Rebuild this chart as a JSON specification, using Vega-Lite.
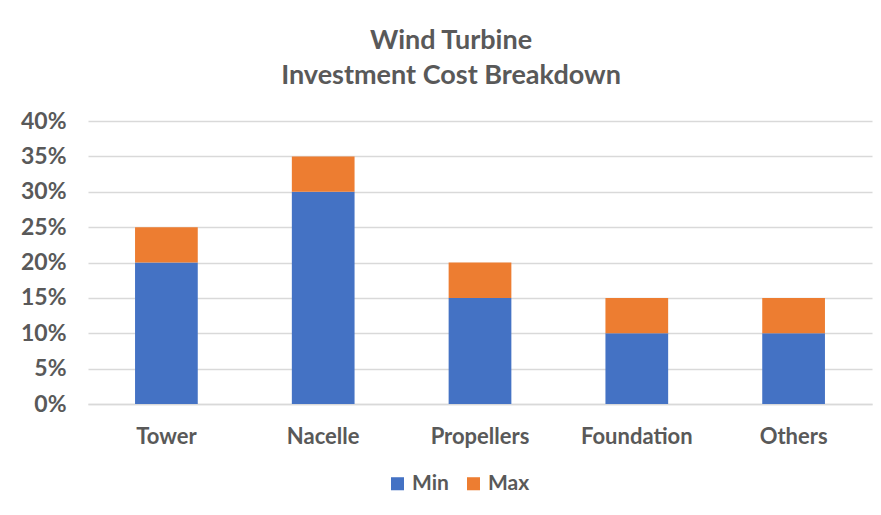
{
  "$schema": "https://vega.github.io/schema/vega-lite/v6.json",
  "width": 784,
  "height": 283,
  "autosize": "none",
  "padding": {"left": 88, "top": 121, "right": 9, "bottom": 111},
  "background": "white",
  "title": {
    "text": ["Wind Turbine", "Investment Cost Breakdown"],
    "font": "Lato, sans-serif",
    "fontSize": 27,
    "fontWeight": "bold",
    "color": "#595959",
    "anchor": "middle",
    "dx": -29,
    "offset": 20,
    "lineHeight": 35
  },
  "data": {
    "values": [
      {"part": "Tower", "series": "Min", "value": 0.20, "k": 1},
      {"part": "Tower", "series": "Max", "value": 0.05, "k": 2},
      {"part": "Nacelle", "series": "Min", "value": 0.30, "k": 1},
      {"part": "Nacelle", "series": "Max", "value": 0.05, "k": 2},
      {"part": "Propellers", "series": "Min", "value": 0.15, "k": 1},
      {"part": "Propellers", "series": "Max", "value": 0.05, "k": 2},
      {"part": "Foundation", "series": "Min", "value": 0.10, "k": 1},
      {"part": "Foundation", "series": "Max", "value": 0.05, "k": 2},
      {"part": "Others", "series": "Min", "value": 0.10, "k": 1},
      {"part": "Others", "series": "Max", "value": 0.05, "k": 2}
    ]
  },
  "mark": {"type": "bar"},
  "encoding": {
    "x": {
      "field": "part",
      "type": "nominal",
      "sort": ["Tower", "Nacelle", "Propellers", "Foundation", "Others"],
      "scale": {"paddingInner": 0.6, "paddingOuter": 0.3},
      "axis": {
        "title": null,
        "labelAngle": 0,
        "labelFont": "Lato, sans-serif",
        "labelFontSize": 22,
        "labelFontWeight": "bold",
        "labelColor": "#595959",
        "labelPadding": 22,
        "ticks": false,
        "domain": true,
        "domainColor": "#D9D9D9",
        "domainWidth": 1.5,
        "grid": false
      }
    },
    "y": {
      "field": "value",
      "type": "quantitative",
      "stack": "zero",
      "scale": {"domain": [0, 0.4]},
      "axis": {
        "title": null,
        "values": [0, 0.05, 0.1, 0.15, 0.2, 0.25, 0.3, 0.35, 0.4],
        "format": ".0%",
        "labelFont": "Lato, sans-serif",
        "labelFontSize": 23,
        "labelFontWeight": "bold",
        "labelColor": "#595959",
        "labelPadding": 22,
        "ticks": false,
        "domain": false,
        "gridColor": "#D9D9D9",
        "gridWidth": 1.5
      }
    },
    "color": {
      "field": "series",
      "type": "nominal",
      "scale": {"domain": ["Min", "Max"], "range": ["#4472C4", "#ED7D31"]},
      "legend": {
        "title": null,
        "orient": "none",
        "legendX": 299,
        "legendY": 352,
        "direction": "horizontal",
        "symbolType": "square",
        "symbolSize": 170,
        "symbolStrokeWidth": 0,
        "labelFont": "Lato, sans-serif",
        "labelFontSize": 21,
        "labelFontWeight": "bold",
        "labelColor": "#595959",
        "columnPadding": 14,
        "labelOffset": 4
      }
    },
    "order": {"field": "k", "type": "quantitative"}
  },
  "config": {"view": {"stroke": null}}
}
